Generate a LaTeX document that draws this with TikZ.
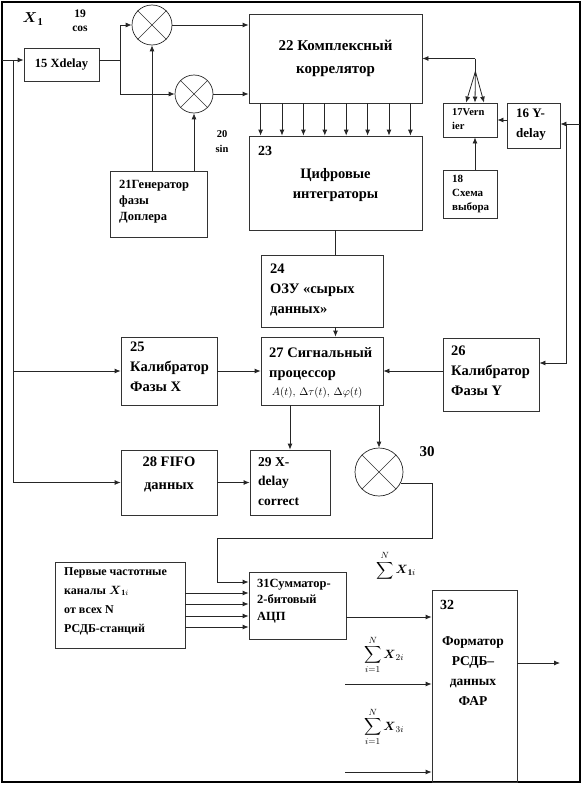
\documentclass[tikz,border=0pt]{standalone}
\usepackage{amsmath}
\usepackage{fontspec}
\setmainfont{Liberation Serif}
\usetikzlibrary{arrows.meta,calc,fit}
\newcommand\mybox[5]{\node[box,fit={(#2,#3) (#4,#5)}] (#1) {};}
\newcommand\fs[2]{\fontsize{#1}{#2}\selectfont\bfseries}
\begin{document}
\begin{tikzpicture}[x=1pt,y=-1pt,
 ln/.style={line width=0.8pt, draw=black!85},
 arr/.style={ln, -{Latex[length=6pt,width=5pt]}},
 box/.style={draw=black!80, line width=0.8pt, rectangle, inner sep=0pt},
 mul/.style={draw=black!85, circle, line width=0.7pt, inner sep=0pt},
 t/.style={inner sep=0pt, align=left, anchor=north west},
 tc/.style={inner sep=0pt, align=center, anchor=center},
]
\useasboundingbox (0,0) rectangle (583,787);
\node[draw, line width=1.2pt, fit={(2,2) (580,782)}, inner sep=0pt] (frame) {};

\mybox{b15}{24}{48}{99}{81}
\mybox{b22}{249}{14}{422}{103}
\mybox{b23}{249}{136}{422}{230}
\mybox{b21}{110}{171}{207}{237}
\mybox{b17}{443}{103}{497}{137}
\mybox{b16}{507}{103}{560}{148}
\mybox{b18}{443}{170}{497}{218}
\mybox{b24}{261}{255}{383}{327}
\mybox{b27}{261}{337}{383}{405}
\mybox{b25}{121}{337}{217}{405}
\mybox{b26}{443}{338}{539}{411}
\mybox{b28}{121}{450}{217}{515}
\mybox{b29}{250}{450}{330}{515}
\mybox{b31}{249}{572}{346}{639}
\mybox{bin}{55}{562}{185}{648}
\mybox{b32}{432}{590}{517}{782}

\node[mul, minimum size=40pt] (c19) at (152,25) {};
\node[mul, minimum size=38pt] (c20) at (194,94) {};
\node[mul, minimum size=48pt] (c30) at (379,472) {};
\foreach \c in {c19,c20,c30}{
  \draw[line width=0.5pt, black!80] (\c.45) -- (\c.225);
  \draw[line width=0.5pt, black!80] (\c.135) -- (\c.-45);
}

% texts in boxes
\node[tc, font=\fs{12.5}{18}] (t15) at (b15) {15 Xdelay};
\node[tc, font=\fs{15}{23}] (t22) at (b22) {22 Комплексный\\коррелятор};
\node[t, font=\fs{14}{20}] (t23a) at (258,146) {23};
\node[tc, font=\fs{14.5}{20}] (t23) at (335.5,185) {Цифровые\\интеграторы};
\node[t, font=\fs{12.5}{16}] (t21) at (119,180) {21Генератор\\фазы\\Доплера};
\node[t, font=\fs{10.5}{14}] (t17) at (452,108) {17Vern\\ier};
\node[t, font=\fs{13}{20}] (t16) at (516,109) {16 Y-\\delay};
\node[t, font=\fs{11}{14}] (t18) at (452,175) {18\\Схема\\выбора};
\node[t, font=\fs{14.5}{20}] (t24) at (270,264) {24\\ОЗУ «сырых\\данных»};
\node[t, font=\fs{14.5}{20}] (t27) at (269,347) {27 Сигнальный\\процессор\\[-2pt]\fontsize{11}{14}\selectfont\ $A(t),\,\Delta\tau(t),\,\Delta\varphi(t)$};
\node[t, font=\fs{14.5}{20}] (t25) at (130,342) {25\\Калибратор\\Фазы X};
\node[t, font=\fs{14.5}{20}] (t26) at (451,346) {26\\Калибратор\\Фазы Y};
\node[tc, font=\fs{14.5}{23}, anchor=north] (t28) at (169,457) {28 FIFO\\данных};
\node[t, font=\fs{13.5}{19.5}] (t29) at (258,457) {29 X-\\delay\\correct};
\node[t, font=\fs{12.5}{16.5}] (t31) at (257,579) {31Сумматор-\\2-битовый\\АЦП};
\node[t, font=\fs{12}{19}] (tin) at (64,567) {Первые частотные\\каналы $\boldsymbol{X}_{\mathbf{1}i}$\\от всех N\\РСДБ-станций};
\node[tc, font=\fs{13.5}{20}, anchor=north] (t32) at (473,636) {Форматор\\РСДБ–\\данных\\ФАР};

% free labels
\node[tc, font=\fs{15}{15}] (lx1) at (33,19) {$\boldsymbol{X}_{\mathbf{1}}$};
\node[tc, font=\fs{11.5}{14}] (l19) at (80,21) {19\\cos};
\node[tc, font=\fs{10.5}{15}] (l20) at (222,142) {20\\sin};
\node[tc, font=\fs{15}{15}] (l30) at (427,452) {30};
\node[tc, font=\fs{14}{14}] (l32) at (447,605) {32};
\node[tc, font=\fontsize{12.5}{12.5}\selectfont] (sum1) at (396,566) {$\displaystyle\sum^{N}\boldsymbol{X}_{\mathbf{1}i}$};
\node[tc, font=\fontsize{12.5}{12.5}\selectfont] (sum2) at (384,655) {$\displaystyle\sum_{i=1}^{N}\boldsymbol{X}_{2i}$};
\node[tc, font=\fontsize{12.5}{12.5}\selectfont] (sum3) at (384,727) {$\displaystyle\sum_{i=1}^{N}\boldsymbol{X}_{3i}$};

% connectors
\coordinate (inL) at (2,60);
\coordinate (j0) at (13,60);
\coordinate (j1) at (120,60);
\draw[arr] (inL) -- (inL -| b15.west);
\draw[arr] (j0) |- (b25.west);
\draw[arr] (j0) |- (b28.west);
\draw[ln] (j1 -| b15.east) -- (j1);
\draw[arr] (j1) |- (c19.west);
\draw[arr] (j1) |- (c20.west);
\draw[arr] (c19 |- b21.north) -- (c19.south);
\draw[arr] (c20 |- b21.north) -- (c20.south);
\draw[arr] (c19.east) -- (c19.east -| b22.west);
\draw[arr] (c20.east) -- (c20.east -| b22.west);
\foreach \k in {0,...,7}
  \draw[arr] ([xshift={12+21.4*\k}]b22.south west) -- ([xshift={12+21.4*\k}]b23.north west);
\draw[ln] (b23.south) -- (b23.south |- b24.north);
\draw[arr] (b23.south |- b24.south) -- (b23.south |- b27.north);
\draw[arr] (b25.east) -- (b27.west);
\draw[arr] (b27.east -| b26.west) -- (b27.east);
\draw[arr] (b29.north |- b27.south) -- (b29.north);
\draw[arr] (c30.north |- b27.south) -- (c30.north);
\draw[arr] (b28.east) -- (b28.east -| b29.west);
\coordinate (k1) at (432,538);
\coordinate (k2) at (217,538);
\draw[arr] (c30.-27) -| (k1) -- (k2) |- ([yshift=23.5pt]b31.west);
\foreach \d in {12,1,-11,-22}
  \draw[arr] ([yshift=\d pt]bin.east) -- ([yshift=\d pt]bin.east -| b31.west);
\draw[arr] ([yshift=-11.5pt]b31.east) -- ([yshift=-11.5pt]b31.east -| b32.west);
\coordinate (out) at (560,663);
\draw[arr] (out -| b32.east) -- (out);
\coordinate (s2) at (345,684);
\coordinate (s3) at (345,772);
\draw[arr] (s2) -- (s2 -| b32.west);
\draw[arr] (s3) -- (s3 -| b32.west);
\coordinate (j3) at ([xshift=53pt]b22.east);
\coordinate (j4) at ([yshift=-13pt]j3);
\draw[arr] (j3) -- (b22.east);
\draw[ln] (j3) -- (j4);
\foreach \d in {-4,5,14}
  \draw[arr] (j4) -- ([xshift=\d pt]b17.north);
\draw[arr] ([xshift=5pt]b18.north) -- ([xshift=5pt]b17.south);
\draw[arr] (b16.west |- b17.east) -- (b17.east);
\coordinate (yin) at (580,124);
\coordinate (j2) at (566,124);
\draw[arr] (yin) -- (yin -| b16.east);
\draw[arr] (j2) |- ([yshift=11.5pt]b26.east);
\end{tikzpicture}
\end{document}
